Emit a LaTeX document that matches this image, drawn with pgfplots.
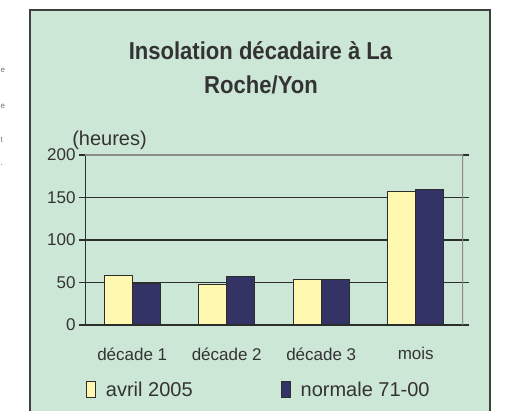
\documentclass[border=0pt]{standalone}
\usepackage{fontspec}
\setmainfont{Liberation Sans}
\newfontfamily\titlefont[FakeStretch=0.9]{Liberation Sans}
\usepackage{pgfplots}
\pgfplotsset{compat=1.18}
\definecolor{bg}{RGB}{205,231,214}
\definecolor{yel}{RGB}{255,248,176}
\definecolor{navy}{RGB}{51,51,102}
\definecolor{txt}{RGB}{51,51,51}
\definecolor{dk}{RGB}{45,45,45}
\begin{document}
\begin{tikzpicture}[x=1pt,y=1pt]
\useasboundingbox (0,0) rectangle (509,411);
\fill[bg] (30,0) rectangle (490,401);
\draw[line width=2pt, draw=black!75] (30,0) -- (30,401) -- (490,401) -- (490,0);
\foreach \yy/\ch in {341/e,305/e,271/t,246/.}
  \node[anchor=west, font=\fontsize{8}{9}\selectfont, text=black!55, inner sep=0pt] at (0.5,\yy) {\ch};
\node[anchor=base, font=\titlefont\bfseries\fontsize{24.5}{30}\selectfont, text=txt, inner sep=0pt] at (260.5,351.7) {Insolation décadaire à La};
\node[anchor=base, font=\titlefont\bfseries\fontsize{24.5}{30}\selectfont, text=txt, inner sep=0pt] at (261,317.7) {Roche/Yon};
\node[font=\fontsize{20}{24}\selectfont, text=txt, inner sep=0pt] at (109.5,271) {(heures)};
\begin{axis}[
  at={(85pt,86pt)}, anchor=south west, scale only axis,
  width=378pt, height=170pt,
  xmin=-0.5, xmax=3.5, ymin=0, ymax=200,
  ybar=0pt, bar width=28pt,
  axis line style={draw=none},
  /pgf/number format/assume math mode=true,
  ytick={0,50,100,150,200},
  ymajorgrids, grid style={draw=dk, line width=1.2pt},
  xtick={0,1,2,3}, xticklabels={décade 1, décade 2, décade 3, mois},
  xtick style={draw=none},
  tick align=outside, major tick length=6pt,
  ytick style={draw=dk, line width=1.2pt},
  yticklabel style={font=\fontsize{17}{20}\selectfont, text=txt},
  xticklabel style={font=\fontsize{17}{20}\selectfont, text=txt, yshift=-13pt},
  legend columns=2,
  legend style={draw=none, fill=none, at={(axis description cs:0.002,-0.38)}, anchor=west,
     font=\fontsize{20}{24}\selectfont, text=txt, inner sep=0pt,
     /tikz/every odd column/.append style={column sep=8pt},
     /tikz/every even column/.append style={column sep=86pt}},
  legend image code/.code={\draw[#1, line width=1pt] (0pt,-8pt) rectangle (9pt,8pt);},
]
\addplot[fill=yel, draw=dk, line width=1pt] coordinates {(0,58) (1,48) (2,53) (3,157)};
\addplot[fill=navy, draw=dk, line width=1pt] coordinates {(0,49) (1,56.5) (2,53) (3,159.6)};
\legend{avril 2005, normale 71-00}
\draw[dk, line width=1.4pt] (rel axis cs:0,0) -- (rel axis cs:1,0);
\draw[dk, line width=1.4pt] (rel axis cs:0,0) -- (rel axis cs:0,1);
\draw[black!45, line width=1.4pt] (rel axis cs:0,1) -- (rel axis cs:1,1) -- (rel axis cs:1,0);
\pgfplotsinvokeforeach{-0.5,0.5,1.5,2.5,3.5}{
  \draw[dk, line width=1.2pt] (axis cs:#1,0) -- ++(0pt,-6pt);
}
\end{axis}
\end{tikzpicture}
\end{document}
